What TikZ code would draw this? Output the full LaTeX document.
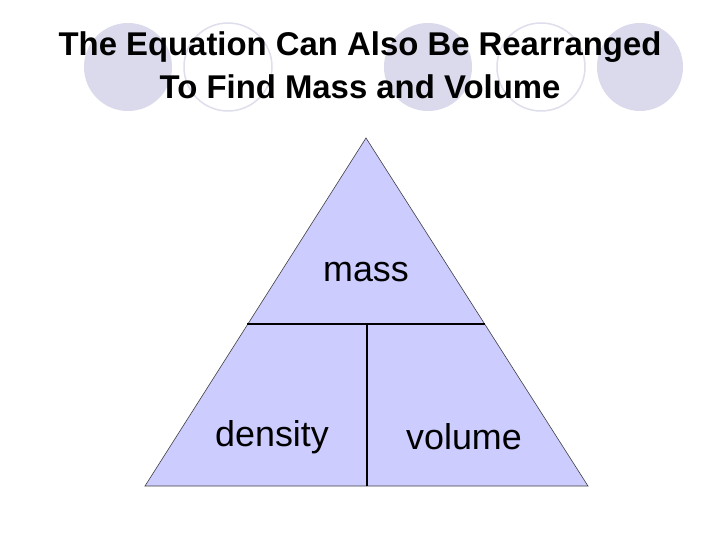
\documentclass[tikz,border=0pt]{standalone}
\usepackage{fontspec}
\setmainfont{Liberation Sans}
\begin{document}
\begin{tikzpicture}[x=1bp,y=-1bp,
  blob/.style={fill=circ,draw=none},
  ring/.style={draw=ringc,line width=1.5bp,fill=none},
  ttl/.style={font=\fontsize{33}{36}\selectfont\bfseries,inner sep=0},
  lbl/.style={font=\fontsize{36}{40}\selectfont,inner sep=0},
  edge/.style={draw=black!75,line width=0.6bp},
  div/.style={draw=black,line width=2bp}]
\definecolor{circ}{RGB}{218,218,236}
\definecolor{ringc}{RGB}{222,222,236}
\definecolor{tri}{RGB}{204,204,255}
\useasboundingbox (0,0) rectangle (720,540);
\fill[white] (0,0) rectangle (720,540);
\path[blob] (128,67) ellipse [x radius=44,y radius=44];
\path[ring] (228,67) ellipse [x radius=44,y radius=44];
\path[blob] (428,67) ellipse [x radius=44,y radius=44];
\path[ring] (541,67) ellipse [x radius=44,y radius=44];
\path[blob] (640,67) ellipse [x radius=43,y radius=44];
\node[ttl] (t1) at (360,47) {The Equation Can Also Be Rearranged};
\node[ttl] (t2) at (360,87) {To Find Mass and Volume};
\coordinate (apex) at (366,138);
\coordinate (bl) at (145,486);
\coordinate (br) at (588,486);
\path[fill=tri,edge] (apex) -- (br) -- (bl) -- cycle;
\coordinate (hl) at (247,324);
\coordinate (hr) at (485,324);
\coordinate (vt) at (367,324);
\coordinate (vb) at (367,486);
\draw[div] (hl) -- (hr);
\draw[div] (vt) -- (vb);
\node[lbl] (mass) at (366,272) {mass};
\node[lbl] (dens) at (272,437) {density};
\node[lbl] (vol) at (464,437) {volume};
\end{tikzpicture}
\end{document}
